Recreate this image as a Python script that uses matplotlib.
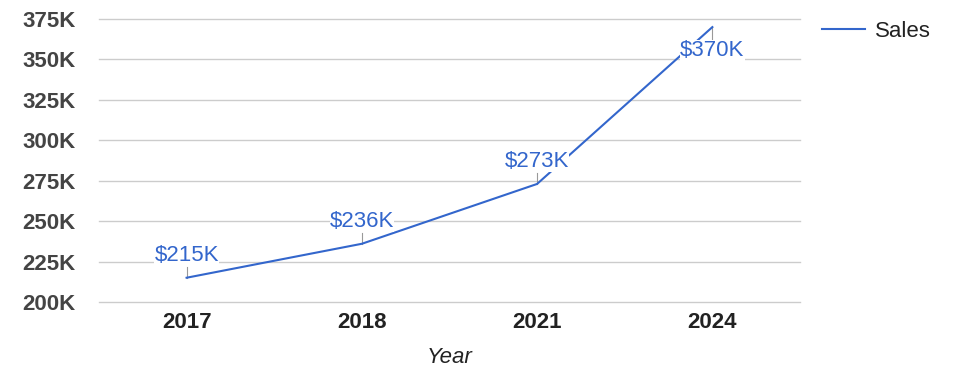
import matplotlib.pyplot as plt
from matplotlib.ticker import FuncFormatter

plt.rcParams['font.family'] = ['Liberation Sans', 'DejaVu Sans']

years = ['2017', '2018', '2021', '2024']
sales = [215, 236, 273, 370]  # thousands
label_text = ['$215K', '$236K', '$273K', '$370K']
y_ticks = [200, 225, 250, 275, 300, 325, 350, 375]

blue = '#3366cc'
fs = 16

fig = plt.figure(figsize=[9.75, 3.78], dpi=100)
ax = fig.add_axes([0.1015, 0.2011, 0.719, 0.7486])

x = [i + 0.5 for i in range(len(years))]
ax.plot(x, sales, color=blue, lw=1.5, zorder=3, label='Sales')

ax.set_xlim(0, len(years))
ax.set_ylim(200, 375)
ax.set_yticks(y_ticks)
ax.yaxis.set_major_formatter(FuncFormatter(lambda v, p: f'{int(v)}K'))
ax.set_xticks(x)
ax.set_xticklabels(years)

ax.grid(axis='y', color='#cccccc', lw=1)
for gl in ax.get_ygridlines():
    gl.set_clip_on(False)
ax.set_axisbelow(True)
for s in ax.spines.values():
    s.set_visible(False)
ax.tick_params(length=0)
ax.tick_params(axis='y', pad=17, labelsize=fs, labelcolor='#444444')
ax.tick_params(axis='x', pad=7, labelsize=fs, labelcolor='#222222')
for t in ax.get_yticklabels() + ax.get_xticklabels():
    t.set_fontweight('bold')

ax.set_xlabel('Year', fontsize=fs, fontstyle='italic', color='#222222', labelpad=10)

# data labels with short leader lines
for xi, v, txt in zip(x, sales, label_text):
    if v > 350:
        ax.plot([xi, xi], [v, v - 7.5], color='#999999', lw=0.8, zorder=2)
        ax.annotate(txt, (xi, v), xytext=(0, -9), textcoords='offset points',
                    ha='center', va='top', fontsize=fs, color=blue, zorder=5,
                    bbox=dict(facecolor='white', edgecolor='none', pad=0))
    else:
        ax.plot([xi, xi], [v, v + 6.5], color='#999999', lw=0.8, zorder=2)
        ax.annotate(txt, (xi, v), xytext=(0, 12), textcoords='offset points',
                    ha='center', va='baseline', fontsize=fs, color=blue, zorder=5,
                    bbox=dict(facecolor='white', edgecolor='none', pad=0))

ax.legend(loc='center left', bbox_to_anchor=(1.031, 0.955), frameon=False,
          borderaxespad=0, borderpad=0, fontsize=fs, handlelength=1.95,
          handletextpad=0.45, labelcolor='#222222')

plt.savefig('out.png', dpi=100)
